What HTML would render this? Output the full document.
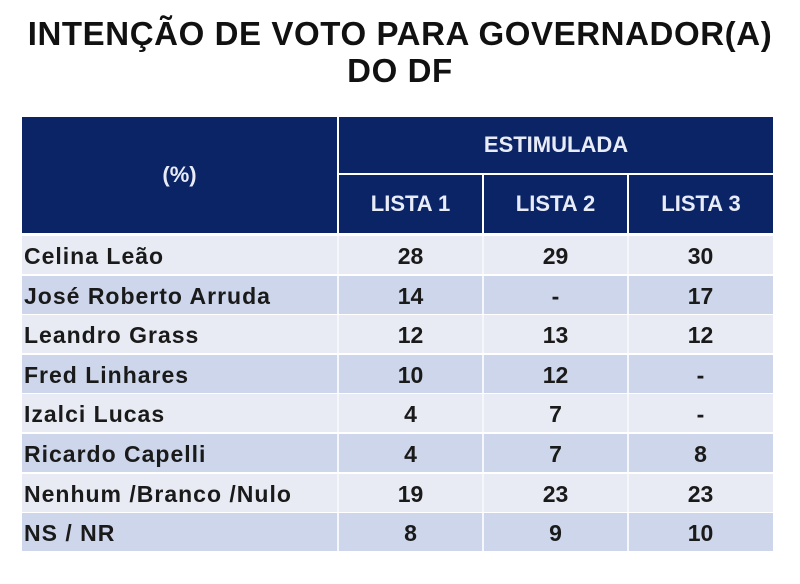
<!DOCTYPE html>
<html><head><meta charset="utf-8"><style>
body{margin:0;width:800px;height:584px;background:#fff;font-family:"Liberation Sans",sans-serif;font-weight:bold;position:relative;overflow:hidden}
.t{position:absolute;left:0;width:800px;text-align:center;font-size:33px;color:#111;letter-spacing:0.6px}
.h{position:absolute;background:#0b2466;color:#e8ecf6;font-size:22px;display:flex;align-items:center;justify-content:center}
.r{position:absolute;left:22px;width:751px;height:38px}
.c{position:absolute;top:0;height:38px;line-height:40px;font-size:23px;color:#1a1a1a}
.n{left:2px;letter-spacing:1px;white-space:nowrap}
.v{text-align:center;width:143px}
.sep{position:absolute;top:0;width:2px;height:38px;background:#f6f7fb}
</style></head><body>
<div class="t" style="top:15px">INTENÇÃO DE VOTO PARA GOVERNADOR(A)</div>
<div class="t" style="top:52px">DO DF</div>
<div class="h" style="left:22px;top:117px;width:315px;height:116px">(%)</div>
<div class="h" style="left:339px;top:117px;width:434px;height:56px">ESTIMULADA</div>
<div class="h" style="left:339px;top:175px;width:143px;height:58px">LISTA 1</div>
<div class="h" style="left:484px;top:175px;width:143px;height:58px">LISTA 2</div>
<div class="h" style="left:629px;top:175px;width:144px;height:58px">LISTA 3</div>
<div id="rows"></div>
<script>
const names=["Celina Leão","José Roberto Arruda","Leandro Grass","Fred Linhares","Izalci Lucas","Ricardo Capelli","Nenhum /Branco /Nulo","NS / NR"];
const lista1=["28","14","12","10","4","4","19","8"];
const lista2=["29","-","13","12","7","7","23","9"];
const lista3=["30","17","12","-","-","8","23","10"];
const host=document.getElementById('rows');
names.forEach((nm,i)=>{
  const r=document.createElement('div');
  r.className='r';
  
  
  r.style.top=(236+i*39.6)+'px';
  r.style.background=i%2?'#cdd6ea':'#e8ebf4';
  let h='<div class="c n">'+nm+'</div>';
  [lista1[i],lista2[i],lista3[i]].forEach((v,j)=>{
    h+='<div class="sep" style="left:'+(315+j*145)+'px"></div>';
    h+='<div class="c v" style="left:'+(317+j*145)+'px">'+v+'</div>';
  });
  r.innerHTML=h;
  host.appendChild(r);
});
</script>
</body></html>
